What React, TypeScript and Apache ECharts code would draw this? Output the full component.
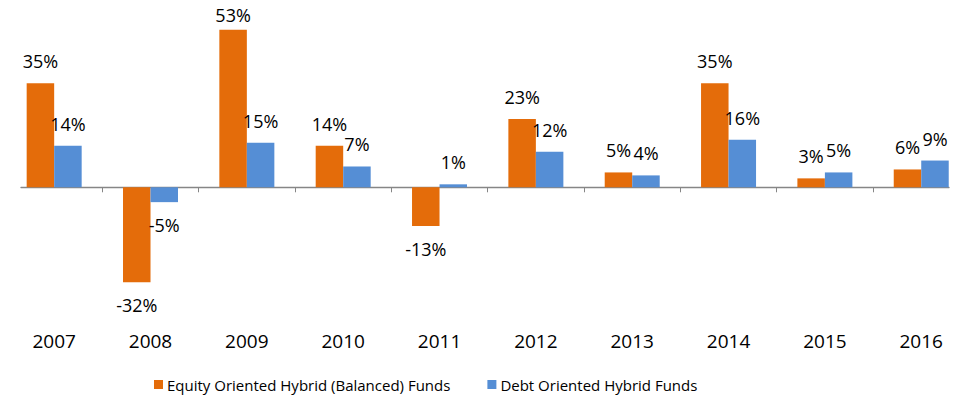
import { useEffect, useRef } from 'react';
import * as echarts from 'echarts';

const years = ['2007', '2008', '2009', '2010', '2011', '2012', '2013', '2014', '2015', '2016'];
const equityHybrid = [35, -32, 53, 14, -13, 23, 5, 35, 3, 6];
const debtHybrid = [14, -5, 15, 7, 1, 12, 4, 16, 5, 9];
const seriesNames = ['Equity Oriented Hybrid (Balanced) Funds', 'Debt Oriented Hybrid Funds'];

const ORANGE = '#E46C0A';
const BLUE = '#558ED5';
const AXIS_GRAY = '#868686';
const FONT = "'Open Sans', sans-serif";

// one empty category each side so the outer tick marks fall off-canvas
const BAND = 96.34;
const padded = ['', ...years, ''];
const pad = (v: number[]) => [null, ...v, null];

export default function App() {
  const ref = useRef<HTMLDivElement>(null);

  useEffect(() => {
    if (!ref.current) return;
    const chart = echarts.init(ref.current, undefined, { renderer: 'svg' });

    const gridTop = 9;
    const gridBottom = 95;

    const label = {
      show: true,
      fontFamily: FONT,
      fontSize: 18,
      color: '#000',
      formatter: (p: any) => `${p.value}%`,
    };

    // tall bars get their label pulled in so it stays on the page
    const labelDistance = (v: number) => (v < 0 ? 14 : v > 50 ? 6 : 13);

    const toItems = (values: number[]) =>
      pad(values).map((v) =>
        v === null
          ? null
          : { value: v, label: { position: v < 0 ? 'bottom' : 'top', distance: labelDistance(v) } }
      );

    chart.setOption({
      animation: false,
      backgroundColor: '#fff',
      textStyle: { fontFamily: FONT },
      grid: [
        {
          left: 6 - BAND,
          right: 4.6 - BAND,
          top: gridTop,
          bottom: gridBottom,
          containLabel: false,
          outerBoundsMode: 'none',
        },
        {
          left: 21,
          right: 25,
          top: gridTop,
          bottom: gridBottom,
          containLabel: false,
          outerBoundsMode: 'none',
        },
      ],
      legend: {
        left: 154,
        top: 377,
        padding: 0,
        itemWidth: 9,
        itemHeight: 9,
        itemGap: 37,
        icon: 'rect',
        textStyle: { fontFamily: FONT, fontSize: 15, color: '#000', padding: [0, 0, 0, -1] },
        data: seriesNames,
      },
      xAxis: [
        {
          // ticks at the zero line
          type: 'category',
          gridIndex: 0,
          data: padded,
          boundaryGap: true,
          axisLine: { show: true, onZero: true, lineStyle: { opacity: 0 } },
          axisTick: {
            show: true,
            length: 5,
            interval: (i: number) => i >= 2 && i <= years.length,
            lineStyle: { color: AXIS_GRAY, width: 1 },
          },
          axisLabel: { show: false },
          splitLine: { show: false },
        },
        {
          // visible zero line, shorter than the band area
          type: 'value',
          gridIndex: 1,
          min: 0,
          max: 1,
          axisLine: { show: true, onZero: true, lineStyle: { color: AXIS_GRAY, width: 1.3 } },
          axisTick: { show: false },
          axisLabel: { show: false },
          splitLine: { show: false },
        },
        {
          // year labels under the plot
          type: 'category',
          gridIndex: 0,
          position: 'bottom',
          data: padded,
          boundaryGap: true,
          axisLine: { show: false, onZero: false },
          axisTick: { show: false },
          axisLabel: {
            interval: 0,
            margin: 10,
            fontFamily: FONT,
            fontSize: 19,
            color: '#000',
          },
          splitLine: { show: false },
        },
      ],
      yAxis: [
        { type: 'value', gridIndex: 0, min: -45, max: 60, show: false, splitLine: { show: false } },
        { type: 'value', gridIndex: 1, min: -45, max: 60, show: false, splitLine: { show: false } },
      ],
      series: [
        {
          name: seriesNames[0],
          type: 'bar',
          xAxisIndex: 0,
          yAxisIndex: 0,
          data: toItems(equityHybrid),
          barWidth: 27.5,
          barGap: '0%',
          itemStyle: { color: ORANGE },
          label,
        },
        {
          name: seriesNames[1],
          type: 'bar',
          xAxisIndex: 0,
          yAxisIndex: 0,
          data: toItems(debtHybrid),
          barWidth: 27.5,
          barGap: '0%',
          itemStyle: { color: BLUE },
          label,
        },
      ],
    });

    return () => chart.dispose();
  }, []);

  return (
    <div
      ref={ref}
      style={{ position: 'absolute', left: 0, top: 0, width: 974, height: 416 }}
    />
  );
}
